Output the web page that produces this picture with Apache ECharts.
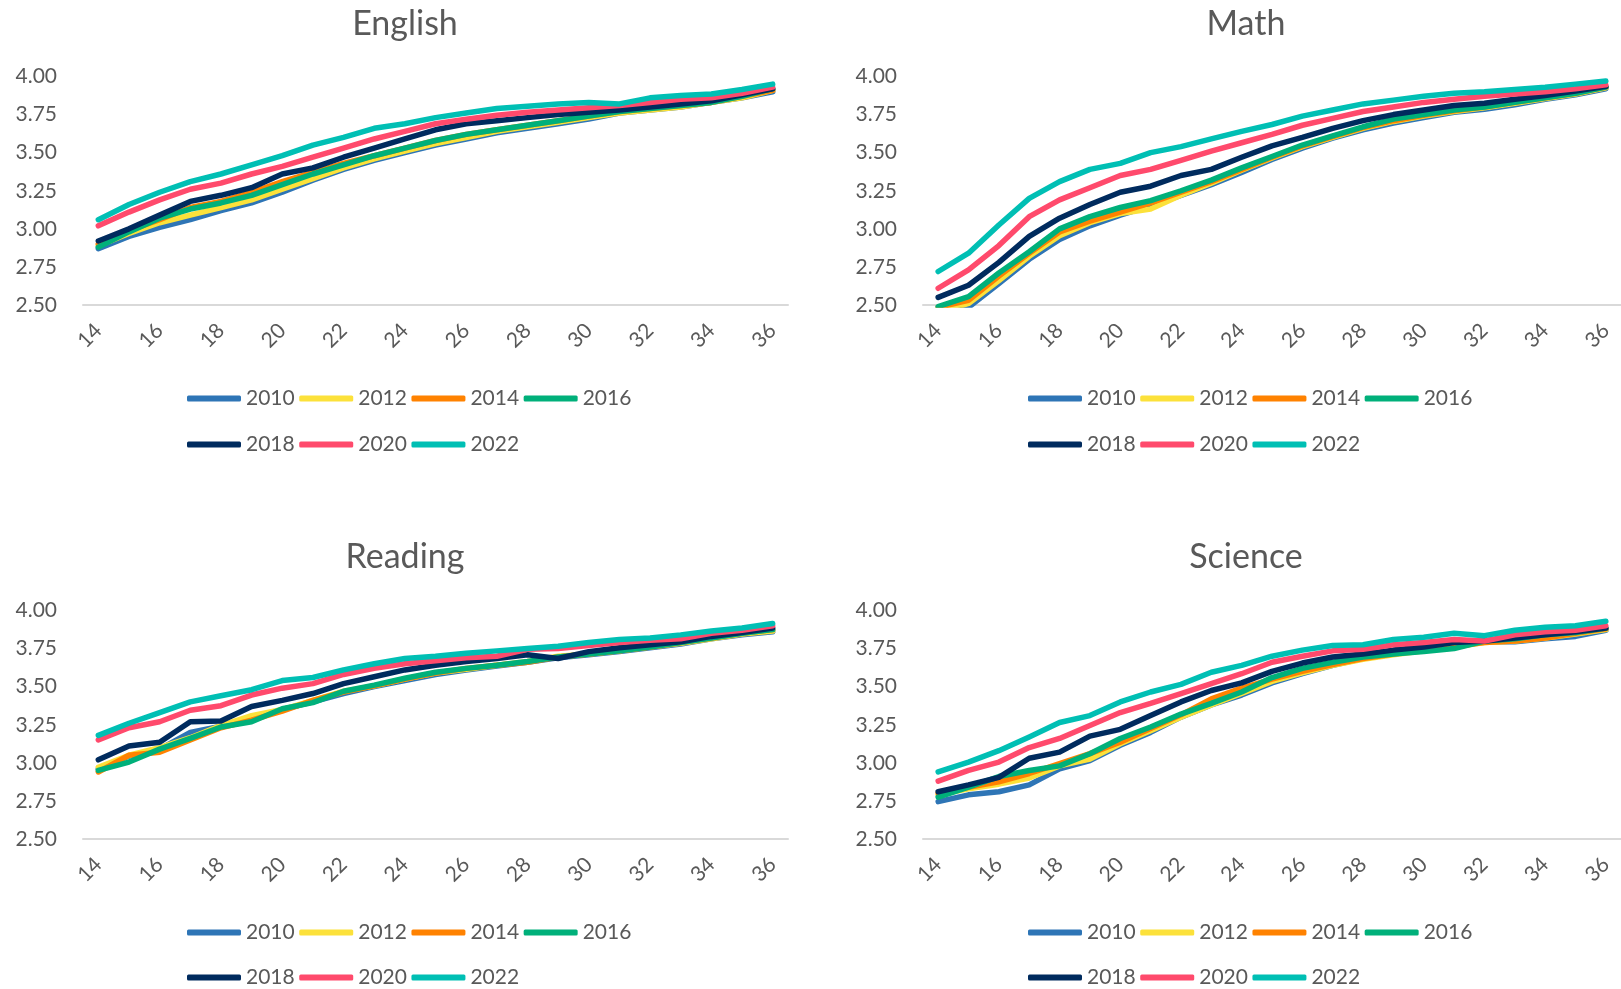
<!DOCTYPE html>
<html>
<head>
<meta charset="utf-8">
<script src="https://cdn.jsdelivr.net/npm/echarts@6/dist/echarts.min.js"></script>
<style>
html,body{margin:0;padding:0;background:#fff;}
#c{width:1621px;height:989px;}
</style>
</head>
<body>
<div id="c"></div>
<script>
const ages = ["14","15","16","17","18","19","20","21","22","23","24","25","26","27","28","29","30","31","32","33","34","35","36"];
const years = ["2010","2012","2014","2016","2018","2020","2022"];
const yTicks = [2.5, 2.75, 3.0, 3.25, 3.5, 3.75, 4.0];
const subjects = ["English","Math","Reading","Science"];

const english2010 = [2.87,2.95,3.01,3.06,3.12,3.17,3.24,3.32,3.39,3.45,3.50,3.55,3.59,3.63,3.66,3.69,3.72,3.76,3.78,3.80,3.83,3.86,3.90];
const english2012 = [2.89,2.97,3.04,3.09,3.14,3.19,3.26,3.33,3.40,3.46,3.51,3.56,3.60,3.64,3.67,3.70,3.73,3.76,3.78,3.80,3.83,3.86,3.91];
const english2014 = [2.90,2.99,3.06,3.14,3.18,3.24,3.31,3.37,3.43,3.48,3.53,3.58,3.62,3.65,3.68,3.71,3.74,3.77,3.79,3.81,3.83,3.87,3.91];
const english2016 = [2.88,2.98,3.07,3.13,3.17,3.22,3.29,3.36,3.42,3.48,3.53,3.58,3.62,3.65,3.68,3.71,3.74,3.77,3.79,3.81,3.83,3.87,3.92];
const english2018 = [2.92,3.00,3.09,3.18,3.22,3.27,3.36,3.40,3.47,3.53,3.59,3.65,3.69,3.71,3.73,3.75,3.765,3.78,3.80,3.82,3.84,3.88,3.92];
const english2020 = [3.02,3.11,3.19,3.26,3.30,3.36,3.41,3.47,3.53,3.59,3.64,3.69,3.72,3.745,3.765,3.78,3.795,3.81,3.83,3.85,3.86,3.89,3.93];
const english2022 = [3.06,3.16,3.24,3.31,3.36,3.42,3.48,3.55,3.60,3.66,3.69,3.73,3.76,3.79,3.805,3.82,3.83,3.82,3.86,3.875,3.885,3.915,3.95];

const math2010 = [2.42,2.485,2.64,2.80,2.93,3.02,3.09,3.15,3.22,3.29,3.37,3.455,3.53,3.595,3.65,3.695,3.73,3.765,3.785,3.815,3.85,3.88,3.92];
const math2012 = [2.45,2.51,2.66,2.82,2.955,3.04,3.10,3.13,3.22,3.30,3.385,3.465,3.54,3.60,3.66,3.705,3.74,3.77,3.795,3.825,3.855,3.885,3.925];
const math2014 = [2.485,2.53,2.69,2.84,2.98,3.05,3.11,3.17,3.24,3.31,3.39,3.47,3.545,3.605,3.665,3.71,3.745,3.775,3.80,3.83,3.86,3.89,3.93];
const math2016 = [2.49,2.555,2.71,2.85,3.00,3.08,3.14,3.185,3.25,3.32,3.40,3.475,3.55,3.61,3.67,3.72,3.75,3.78,3.80,3.83,3.86,3.89,3.93];
const math2018 = [2.55,2.63,2.78,2.95,3.07,3.16,3.24,3.28,3.35,3.39,3.47,3.545,3.60,3.66,3.71,3.75,3.78,3.81,3.825,3.85,3.875,3.905,3.935];
const math2020 = [2.61,2.73,2.89,3.08,3.19,3.27,3.35,3.39,3.45,3.51,3.565,3.62,3.68,3.725,3.77,3.80,3.83,3.85,3.87,3.885,3.90,3.92,3.945];
const math2022 = [2.72,2.84,3.025,3.20,3.31,3.39,3.43,3.50,3.54,3.59,3.64,3.685,3.74,3.78,3.82,3.845,3.87,3.89,3.90,3.915,3.93,3.95,3.97];

const reading2010 = [2.96,3.045,3.09,3.20,3.24,3.29,3.35,3.40,3.455,3.50,3.54,3.58,3.61,3.635,3.66,3.69,3.71,3.73,3.755,3.78,3.815,3.84,3.86];
const reading2012 = [2.97,3.05,3.10,3.165,3.245,3.31,3.35,3.41,3.47,3.505,3.55,3.59,3.615,3.64,3.665,3.70,3.715,3.735,3.76,3.785,3.815,3.845,3.865];
const reading2014 = [2.94,3.05,3.07,3.15,3.23,3.28,3.34,3.41,3.465,3.505,3.55,3.59,3.62,3.64,3.66,3.695,3.715,3.735,3.76,3.79,3.82,3.85,3.875];
const reading2016 = [2.95,3.005,3.09,3.16,3.235,3.27,3.355,3.395,3.47,3.51,3.555,3.595,3.62,3.64,3.665,3.695,3.715,3.735,3.76,3.79,3.82,3.85,3.875];
const reading2018 = [3.02,3.11,3.135,3.27,3.275,3.37,3.41,3.455,3.52,3.565,3.61,3.64,3.665,3.685,3.71,3.685,3.73,3.755,3.775,3.795,3.83,3.855,3.885];
const reading2020 = [3.15,3.23,3.27,3.345,3.375,3.445,3.49,3.52,3.58,3.62,3.65,3.67,3.69,3.70,3.745,3.75,3.77,3.79,3.805,3.815,3.85,3.87,3.90];
const reading2022 = [3.18,3.26,3.33,3.40,3.44,3.48,3.54,3.56,3.61,3.65,3.685,3.70,3.72,3.735,3.75,3.765,3.79,3.81,3.82,3.84,3.865,3.885,3.915];

const science2010 = [2.745,2.79,2.81,2.855,2.96,3.015,3.115,3.20,3.30,3.38,3.445,3.525,3.585,3.64,3.685,3.715,3.745,3.77,3.795,3.795,3.815,3.83,3.87];
const science2012 = [2.79,2.83,2.86,2.90,2.98,3.025,3.125,3.21,3.30,3.38,3.455,3.535,3.59,3.64,3.68,3.71,3.735,3.76,3.79,3.80,3.82,3.845,3.875];
const science2014 = [2.80,2.84,2.875,2.93,2.995,3.06,3.135,3.225,3.315,3.42,3.49,3.55,3.60,3.645,3.685,3.715,3.74,3.765,3.79,3.80,3.82,3.85,3.88];
const science2016 = [2.775,2.84,2.91,2.95,2.98,3.06,3.16,3.235,3.32,3.39,3.465,3.56,3.62,3.66,3.695,3.715,3.73,3.75,3.80,3.815,3.84,3.855,3.885];
const science2018 = [2.81,2.855,2.905,3.03,3.07,3.175,3.22,3.31,3.40,3.475,3.525,3.60,3.655,3.695,3.715,3.74,3.76,3.79,3.80,3.82,3.84,3.86,3.885];
const science2020 = [2.88,2.95,3.005,3.10,3.16,3.245,3.33,3.39,3.455,3.52,3.585,3.66,3.70,3.735,3.745,3.775,3.79,3.81,3.80,3.84,3.86,3.87,3.90];
const science2022 = [2.94,3.005,3.08,3.17,3.265,3.31,3.40,3.465,3.515,3.595,3.64,3.70,3.74,3.77,3.775,3.81,3.825,3.85,3.835,3.87,3.89,3.90,3.93];

const seriesData = {
  English: [english2010, english2012, english2014, english2016, english2018, english2020, english2022],
  Math: [math2010, math2012, math2014, math2016, math2018, math2020, math2022],
  Reading: [reading2010, reading2012, reading2014, reading2016, reading2018, reading2020, reading2022],
  Science: [science2010, science2012, science2014, science2016, science2018, science2020, science2022]
};

const colors = ["#2E75B6","#FCE13A","#FF8200","#00B07A","#002B5E","#FF4A6C","#00BFB4"];
const textColor = "#595959";
const font = "Lato";

// layout per panel
const panels = [
  {left: 83,  top: 76.5, titleX: 405,  titleY: 24,  legX: 187,  legY1: 388, legY2: 434},
  {left: 923, top: 76.5, titleX: 1246, titleY: 24,  legX: 1028, legY1: 388, legY2: 434},
  {left: 83,  top: 610.5, titleX: 405, titleY: 557, legX: 187,  legY1: 922, legY2: 967},
  {left: 923, top: 610.5, titleX: 1246, titleY: 557, legX: 1028, legY1: 922, legY2: 967}
];

const grid = [], xAxis = [], yAxis = [], series = [], legend = [], graphic = [];
subjects.forEach((subj, k) => {
  const p = panels[k];
  grid.push({left: p.left, top: p.top, width: 705, height: 228.5, containLabel: false});
  xAxis.push({
    type: 'category', gridIndex: k, data: ages, boundaryGap: true,
    axisLine: {lineStyle: {color: '#d9d9d9', width: 2}},
    axisTick: {show: false},
    axisLabel: {interval: 1, rotate: 45, color: textColor, fontFamily: font, fontSize: 21, margin: 22}
  });
  yAxis.push({
    type: 'value', gridIndex: k, min: yTicks[0], max: yTicks[yTicks.length-1], interval: 0.25,
    axisLine: {show: false}, axisTick: {show: false}, splitLine: {show: false},
    axisLabel: {color: textColor, fontFamily: font, fontSize: 21, margin: 26, formatter: v => v.toFixed(2)}
  });
  years.forEach((y, j) => {
    series.push({
      name: y, type: 'line', xAxisIndex: k, yAxisIndex: k, data: seriesData[subj][j],
      symbol: 'none', smooth: false, clip: true,
      lineStyle: {color: colors[j], width: 5.5, cap: 'round', join: 'round'},
      itemStyle: {color: colors[j]},
      z: 2 + j
    });
  });
  const legBase = {
    orient: 'horizontal', left: p.legX, padding: 0, itemGap: 4.5,
    itemWidth: 54, itemHeight: 6, icon: 'roundRect',
    textStyle: {color: textColor, fontFamily: font, fontSize: 21, padding: [0,0,0,0]}
  };
  legend.push(Object.assign({}, legBase, {top: p.legY1, data: years.slice(0,4)}));
  legend.push(Object.assign({}, legBase, {top: p.legY2, data: years.slice(4)}));
  graphic.push({
    type: 'text', x: p.titleX, y: p.titleY,
    style: {text: subj, fill: textColor, font: '34px Lato', textAlign: 'center', textVerticalAlign: 'middle'}
  });
});

const chart = echarts.init(document.getElementById('c'), null, {renderer: 'canvas'});
chart.setOption({
  animation: false,
  backgroundColor: '#ffffff',
  grid, xAxis, yAxis, series, legend, graphic
});
</script>
</body>
</html>
